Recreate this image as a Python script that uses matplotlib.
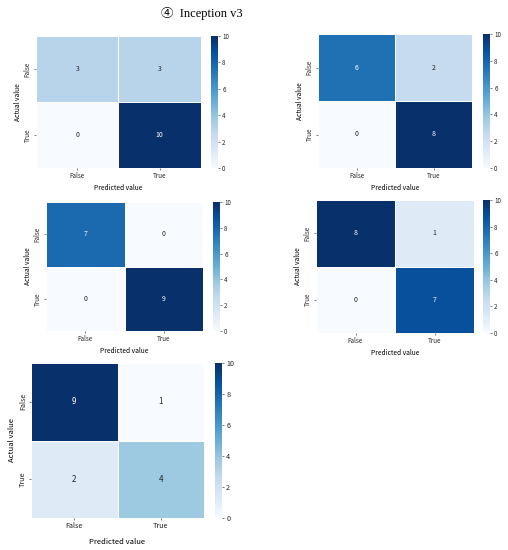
import numpy as np
import matplotlib
matplotlib.use("Agg")
import matplotlib.pyplot as plt
from matplotlib.colors import Normalize
from matplotlib.cm import ScalarMappable
import seaborn as sns

# confusion matrices, rows = actual, cols = predicted
cm1 = [[3, 3], [0, 10]]
cm2 = [[6, 2], [0, 8]]
cm3 = [[7, 0], [0, 9]]
cm4 = [[8, 1], [0, 7]]
cm5 = [[9, 1], [2, 4]]
tick_labels = ["False", "True"]
cbar_ticks = [0, 2, 4, 6, 8, 10]
title = "④  Inception v3"

plt.rcParams["font.family"] = ["Noto Sans CJK KR", "DejaVu Sans"]

W, H = 508, 550

# pixel boxes: heatmap (x0, y0, x1, y1), colorbar (x0, x1), font scale, xlabel pad
panels = [
    (cm1, (36, 36, 201, 168), (211, 218), 1.0, 3),
    (cm2, (318, 34, 472, 168), (483, 490), 1.0, 3),
    (cm3, (46, 202, 203, 331), (213, 220), 1.0, 3),
    (cm4, (316, 200, 474, 333), (483, 490), 1.0, 3),
    (cm5, (31, 363, 204, 518), (215, 222), 1.15, 5.5),
]


def box(x0, y0, x1, y1):
    return [x0 / W, 1 - y1 / H, (x1 - x0) / W, (y1 - y0) / H]


fig = plt.figure(figsize=(W / 100, H / 100), dpi=100)

for cm, hb, cb, sc, xpad in panels:
    ax = fig.add_axes(box(*hb))
    cax = fig.add_axes(box(cb[0], hb[1], cb[1], hb[3]))
    # cells use seaborn's own min..max scaling of each matrix
    sns.heatmap(np.array(cm), ax=ax, cbar=False, cmap="Blues",
                annot=True, fmt="d", annot_kws={"fontsize": 5 * sc},
                linewidths=0.6, linecolor="white",
                xticklabels=tick_labels, yticklabels=tick_labels)
    ax.tick_params(axis="both", labelsize=4.5 * sc, length=1.5, width=0.5,
                   colors="#444444", labelcolor="#222222", pad=1.5)
    ax.set_yticklabels(tick_labels, rotation=90, va="center")
    ax.set_xlabel("Predicted value", fontsize=4.8 * sc, labelpad=xpad)
    ax.set_ylabel("Actual value", fontsize=4.8 * sc, labelpad=1.5 * sc)

    cbar = fig.colorbar(ScalarMappable(Normalize(0, 10), "Blues"), cax=cax)
    cbar.outline.set_visible(False)
    cbar.set_ticks(cbar_ticks)
    cax.tick_params(labelsize=4.5 * sc, length=1.5, width=0.5, pad=1.5,
                    colors="#444444", labelcolor="#222222")

fig.text(202 / W, 1 - 14 / H, title, ha="center", va="center", fontsize=9,
         family=["Liberation Serif", "Noto Sans CJK KR", "DejaVu Sans"])

fig.savefig("out.png", dpi=100)
